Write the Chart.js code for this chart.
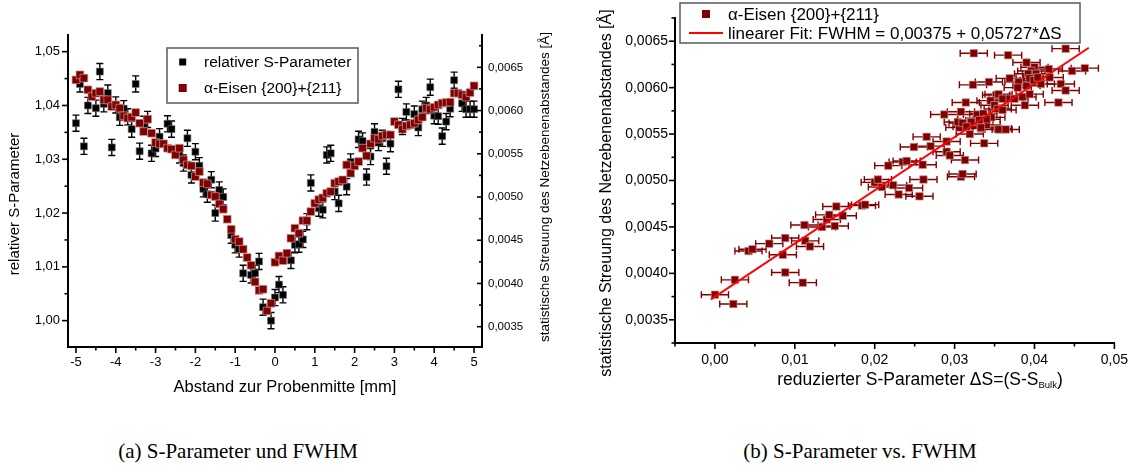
<!DOCTYPE html>
<html>
<head>
<meta charset="utf-8">
<script src="https://cdn.jsdelivr.net/npm/chart.js@4.4.1/dist/chart.umd.min.js"></script>
<style>
  body { margin: 0; background: #fff; }
  #page { position: relative; width: 1137px; height: 473px; overflow: hidden; background: #fff; }
  #chartA { position: absolute; left: 0; top: 0; }
  #chartB { position: absolute; left: 560px; top: 0; }
  .caption { position: absolute; top: 439px; width: 400px; text-align: center;
             font-family: "Liberation Serif", "DejaVu Serif", serif; font-size: 21px; color: #000; }
</style>
</head>
<body>
<div id="page">
  <canvas id="chartA" width="560" height="400"></canvas>
  <canvas id="chartB" width="577" height="400"></canvas>
  <div class="caption" style="left:38px">(a) S-Parameter und FWHM</div>
  <div class="caption" style="left:660px">(b) S-Parameter vs. FWHM</div>
</div>
<script>
// ---- (a) relative S-parameter vs position (black, left axis) ----
const sPos = [-5.0, -4.9, -4.8, -4.7, -4.5, -4.4, -4.3, -4.2, -4.1, -4.0,
              -3.9, -3.8, -3.7, -3.6, -3.5, -3.4, -3.3, -3.2, -3.1, -3.0,
              -2.9, -2.7, -2.6, -2.4, -2.3, -2.2, -2.1, -2.0, -1.9, -1.8,
              -1.7, -1.6, -1.5, -1.4, -1.3, -1.1, -1.0, -0.9, -0.8, -0.6,
              -0.5, -0.4, -0.3, -0.1, 0.0, 0.1, 0.2, 0.4, 0.5, 0.6,
              0.7, 0.8, 0.9, 1.1, 1.2, 1.3, 1.4, 1.5, 1.6, 1.8,
              1.9, 2.1, 2.2, 2.3, 2.4, 2.5, 2.6, 2.7, 2.8, 2.9,
              3.1, 3.2, 3.3, 3.5, 3.6, 3.7, 3.8, 3.9, 4.0, 4.1,
              4.2, 4.3, 4.4, 4.5, 4.7, 4.8, 4.9, 5.0];
const sVal = [1.0367, 1.0440, 1.0324, 1.0400, 1.0395, 1.0463, 1.0403, 1.0423, 1.0322, 1.0401,
              1.0378, 1.0394, 1.0379, 1.0356, 1.0440, 1.0315, 1.0365, 1.0374, 1.0311, 1.0320,
              1.0342, 1.0366, 1.0356, 1.0308, 1.0293, 1.0339, 1.0271, 1.0314, 1.0288, 1.0245,
              1.0235, 1.0262, 1.0200, 1.0243, 1.0230, 1.0159, 1.0141, 1.0133, 1.0088, 1.0085,
              1.0088, 1.0110, 1.0025, 1.0000, 1.0043, 1.0067, 1.0048, 1.0112, 1.0141, 1.0142,
              1.0151, 1.0184, 1.0256, 1.0209, 1.0206, 1.0308, 1.0311, 1.0240, 1.0218, 1.0249,
              1.0295, 1.0337, 1.0334, 1.0267, 1.0305, 1.0351, 1.0331, 1.0339, 1.0287, 1.0329,
              1.0430, 1.0361, 1.0388, 1.0384, 1.0359, 1.0393, 1.0400, 1.0434, 1.0381, 1.0380,
              1.0343, 1.0370, 1.0394, 1.0447, 1.0404, 1.0393, 1.0393, 1.0393];
const sErr = 0.0015;

// ---- (a) FWHM vs position (dark red, right axis) ----
const fPos = [-5.0, -4.9, -4.8, -4.7, -4.6, -4.5, -4.4, -4.3, -4.2, -4.1,
              -4.0, -3.9, -3.8, -3.7, -3.6, -3.5, -3.4, -3.3, -3.2, -3.1,
              -3.0, -2.9, -2.8, -2.7, -2.6, -2.5, -2.4, -2.3, -2.2, -2.1,
              -2.0, -1.9, -1.8, -1.7, -1.6, -1.5, -1.4, -1.3, -1.2, -1.1,
              -1.0, -0.9, -0.8, -0.7, -0.6, -0.5, -0.4, -0.3, -0.2, -0.1,
              0.0, 0.1, 0.2, 0.3, 0.4, 0.5, 0.6, 0.7, 0.8, 0.9,
              1.0, 1.1, 1.2, 1.3, 1.4, 1.5, 1.6, 1.7, 1.8, 1.9,
              2.0, 2.1, 2.2, 2.3, 2.4, 2.5, 2.6, 2.7, 2.8, 2.9,
              3.0, 3.1, 3.2, 3.3, 3.4, 3.5, 3.6, 3.7, 3.8, 3.9,
              4.0, 4.1, 4.2, 4.3, 4.4, 4.5, 4.6, 4.7, 4.8, 4.9, 5.0];
const fVal = [0.006355, 0.006413, 0.006375, 0.006240, 0.006162, 0.006201, 0.006220, 0.006124, 0.006124, 0.006046,
              0.006066, 0.006028, 0.005939, 0.005912, 0.005924, 0.005977, 0.005854, 0.005757, 0.005900, 0.005738,
              0.005630, 0.005615, 0.005615, 0.005565, 0.005553, 0.005487, 0.005565, 0.005429, 0.005371, 0.005360,
              0.005236, 0.005294, 0.005167, 0.005152, 0.005024, 0.005005, 0.004920, 0.004859, 0.004743, 0.004627,
              0.004512, 0.004484, 0.004396, 0.004300, 0.004210, 0.004018, 0.003920, 0.003933, 0.003682, 0.003771,
              0.004245, 0.004318, 0.004264, 0.004350, 0.004523, 0.004639, 0.004581, 0.004727, 0.004727, 0.004831,
              0.004928, 0.004970, 0.004990, 0.005044, 0.005063, 0.005160, 0.005178, 0.005198, 0.005371, 0.005275,
              0.005360, 0.005410, 0.005565, 0.005476, 0.005615, 0.005680, 0.005669, 0.005707, 0.005719, 0.005719,
              0.005873, 0.005835, 0.005785, 0.005823, 0.005835, 0.005854, 0.005893, 0.005924, 0.006028, 0.006016,
              0.006039, 0.006066, 0.006086, 0.006093, 0.006097, 0.006201, 0.006201, 0.006182, 0.006155, 0.006208, 0.006286];

// ---- (b) reduced S-parameter vs FWHM ----
const dS = [0.0000, 0.0023, 0.0025, 0.0042, 0.0047, 0.0068, 0.0085, 0.0088, 0.0088, 0.0110,
            0.0112, 0.0113, 0.0119, 0.0134, 0.0140, 0.0143, 0.0150, 0.0152, 0.0160, 0.0184,
            0.0188, 0.0200, 0.0209, 0.0223, 0.0230, 0.0243, 0.0256, 0.0204, 0.0261, 0.0308,
            0.0310, 0.0217, 0.0235, 0.0240, 0.0260, 0.0313, 0.0290, 0.0294, 0.0249, 0.0270,
            0.0290, 0.0337, 0.0265, 0.0319, 0.0333, 0.0354, 0.0306, 0.0304, 0.0320, 0.0340,
            0.0308, 0.0328, 0.0287, 0.0314, 0.0346, 0.0352, 0.0323, 0.0343, 0.0324, 0.0367,
            0.0439, 0.0390, 0.0400, 0.0396, 0.0418, 0.0447, 0.0463, 0.0369, 0.0380, 0.0390,
            0.0408, 0.0433, 0.0439, 0.0419, 0.0379, 0.0355, 0.0360, 0.0369, 0.0375, 0.0385,
            0.0394, 0.0430, 0.0388, 0.0345, 0.0350, 0.0354, 0.0360, 0.0336, 0.0340, 0.0310,
            0.0321, 0.0331, 0.0315, 0.0333, 0.0355, 0.0364, 0.0392, 0.0402, 0.0394, 0.0399, 0.0404];
const dFw = [0.00377, 0.00367, 0.00393, 0.00424, 0.00426, 0.00432, 0.00420, 0.00438, 0.00401, 0.00390,
             0.00452, 0.00435, 0.00429, 0.00450, 0.00458, 0.00463, 0.00451, 0.00472, 0.00462, 0.00473,
             0.00474, 0.00498, 0.00493, 0.00495, 0.00485, 0.00492, 0.00483, 0.00501, 0.00501, 0.00504,
             0.00507, 0.00516, 0.00520, 0.00521, 0.00517, 0.00522, 0.00531, 0.00527, 0.00536, 0.00537,
             0.00542, 0.00540, 0.00547, 0.00550, 0.00556, 0.00556, 0.00557, 0.00563, 0.00564, 0.00560,
             0.00574, 0.00571, 0.00571, 0.00584, 0.00568, 0.00592, 0.00603, 0.00606, 0.00637, 0.00635,
             0.00642, 0.00627, 0.00622, 0.00618, 0.00620, 0.00618, 0.00621, 0.00610, 0.00606, 0.00602,
             0.00604, 0.00604, 0.00597, 0.00611, 0.00600, 0.00593, 0.00588, 0.00588, 0.00588, 0.00590,
             0.00593, 0.00584, 0.00581, 0.00586, 0.00581, 0.00577, 0.00576, 0.00572, 0.00566, 0.00562,
             0.00563, 0.00565, 0.00558, 0.00557, 0.00555, 0.00555, 0.00615, 0.00615, 0.00610, 0.00608, 0.00611];
const dSErr = 0.0017;
const fitX = [-0.0005, 0.0468];
const fitY = [0.00372, 0.00643];

// tick positions
const posTicks = [-5, -4, -3, -2, -1, 0, 1, 2, 3, 4, 5];
const sTicks = [1.00, 1.01, 1.02, 1.03, 1.04, 1.05];
const fTicks = [0.0035, 0.0040, 0.0045, 0.0050, 0.0055, 0.0060, 0.0065];
const dSTicks = [0.00, 0.01, 0.02, 0.03, 0.04, 0.05];

const SANS = '"Liberation Sans", Arial, sans-serif';
const DARKRED = '#800000';
const deNum = (v, d) => v.toFixed(d).replace('.', ',');
const toXY = (xs, ys) => xs.map((x, i) => ({ x: x, y: ys[i] }));

Chart.defaults.font.family = SANS;
Chart.defaults.color = '#000';

// error bars, drawn under the markers
const errorBars = {
  id: 'errorBars',
  beforeDatasetsDraw(chart) {
    const ctx = chart.ctx;
    chart.data.datasets.forEach((ds, i) => {
      if (ds.errY === undefined && ds.errX === undefined) return;
      const meta = chart.getDatasetMeta(i);
      const xs = chart.scales[meta.xAxisID], ys = chart.scales[meta.yAxisID];
      ctx.save();
      ctx.strokeStyle = ds.errColor;
      ctx.lineWidth = 1.4;
      ds.data.forEach(p => {
        const px = xs.getPixelForValue(p.x), py = ys.getPixelForValue(p.y);
        ctx.beginPath();
        if (ds.errY !== undefined) {
          const t = ys.getPixelForValue(p.y + ds.errY), b = ys.getPixelForValue(p.y - ds.errY);
          ctx.moveTo(px, t); ctx.lineTo(px, b);
          ctx.moveTo(px - 3.5, t); ctx.lineTo(px + 3.5, t);
          ctx.moveTo(px - 3.5, b); ctx.lineTo(px + 3.5, b);
        } else {
          const l = xs.getPixelForValue(p.x - ds.errX), r = xs.getPixelForValue(p.x + ds.errX);
          ctx.moveTo(l, py); ctx.lineTo(r, py);
          ctx.moveTo(l, py - 3.5); ctx.lineTo(l, py + 3.5);
          ctx.moveTo(r, py - 3.5); ctx.lineTo(r, py + 3.5);
        }
        ctx.stroke();
      });
      ctx.restore();
    });
  }
};

// tick marks (major + minor), axis titles and the boxed legend
function makeDecor(spec) {
  return {
    id: 'decor',
    afterDraw(chart) {
      const ctx = chart.ctx, a = chart.chartArea;
      ctx.save();
      ctx.strokeStyle = '#000';
      ctx.lineWidth = 1.6;
      spec.ticks.forEach(t => {
        const s = chart.scales[t.id];
        const k0 = Math.ceil(s.min / t.minor - 1e-6), k1 = Math.floor(s.max / t.minor + 1e-6);
        for (let k = k0; k <= k1; k++) {
          const v = k * t.minor, r = v / t.major;
          const len = Math.abs(r - Math.round(r)) < 1e-6 ? t.len : t.mlen;
          const p = s.getPixelForValue(v);
          ctx.beginPath();
          if (t.side === 'bottom') { ctx.moveTo(p, a.bottom); ctx.lineTo(p, a.bottom + len); }
          else if (t.side === 'left') { ctx.moveTo(a.left, p); ctx.lineTo(a.left - len, p); }
          else { ctx.moveTo(a.right, p); ctx.lineTo(a.right - len, p); }
          ctx.stroke();
        }
      });

      ctx.fillStyle = '#000';
      ctx.textBaseline = 'middle';
      spec.titles.forEach(t => {
        ctx.save();
        ctx.translate(t.x, t.y);
        ctx.rotate(t.rot * Math.PI / 180);
        ctx.font = t.size + 'px ' + SANS;
        const w = ctx.measureText(t.text).width;
        let sw = 0;
        if (t.sub) {
          ctx.font = t.subSize + 'px ' + SANS;
          sw = ctx.measureText(t.sub).width;
          ctx.font = t.size + 'px ' + SANS;
          sw += ctx.measureText(t.tail).width;
        }
        let x0 = -(w + sw) / 2;
        ctx.textAlign = 'left';
        ctx.fillText(t.text, x0, 0);
        if (t.sub) {
          x0 += w;
          ctx.font = t.subSize + 'px ' + SANS;
          ctx.fillText(t.sub, x0, t.subDy);
          x0 += ctx.measureText(t.sub).width;
          ctx.font = t.size + 'px ' + SANS;
          ctx.fillText(t.tail, x0, 0);
        }
        ctx.restore();
      });

      const lg = spec.legend;
      ctx.fillStyle = '#fff';
      ctx.fillRect(lg.x, lg.y, lg.w, lg.h);
      ctx.strokeStyle = '#5a5a5a';
      ctx.lineWidth = 1.5;
      ctx.strokeRect(lg.x, lg.y, lg.w, lg.h);
      ctx.font = lg.size + 'px ' + SANS;
      ctx.textAlign = 'left';
      lg.items.forEach(it => {
        const ds = chart.data.datasets[it.ds];
        if (it.kind === 'line') {
          ctx.strokeStyle = ds.borderColor;
          ctx.lineWidth = 2;
          ctx.beginPath(); ctx.moveTo(it.x0, it.y); ctx.lineTo(it.x1, it.y); ctx.stroke();
        } else {
          ctx.fillStyle = ds.backgroundColor;
          ctx.fillRect(it.mx - it.ms / 2, it.y - it.ms / 2, it.ms, it.ms);
        }
        ctx.fillStyle = '#000';
        ctx.fillText(ds.label, it.tx, it.y + 1);
      });
      ctx.restore();
    }
  };
}

function axis(opts) {
  return Object.assign({
    type: 'linear',
    grid: { display: false, drawTicks: false },
    border: { display: true, color: '#000', width: 2 }
  }, opts);
}

// ---------------- chart (a) ----------------
new Chart(document.getElementById('chartA'), {
  type: 'scatter',
  data: {
    datasets: [
      {
        label: 'relativer S-Parameter',
        data: toXY(sPos, sVal),
        yAxisID: 'y',
        pointStyle: 'rect', pointRadius: 4.9,
        backgroundColor: '#000', borderColor: '#6a6a6a', borderWidth: 0.6,
        errY: sErr, errColor: '#000',
        order: 1
      },
      {
        label: 'α-Eisen {200}+{211}',
        data: toXY(fPos, fVal),
        yAxisID: 'y2',
        pointStyle: 'rect', pointRadius: 5.5,
        backgroundColor: DARKRED, borderColor: '#c99a9a', borderWidth: 0.7,
        order: 0
      }
    ]
  },
  options: {
    responsive: false,
    animation: false,
    events: [],
    layout: { padding: { top: 35, left: 0, right: 0, bottom: 0 } },
    plugins: { legend: { display: false }, tooltip: { enabled: false } },
    scales: {
      x: axis({
        min: -5.2, max: 5.2,
        afterBuildTicks: s => { s.ticks = posTicks.map(v => ({ value: v })); },
        afterFit: s => { s.height = 53; },
        ticks: { font: { size: 13 }, color: '#000', padding: 8, maxRotation: 0, autoSkip: false,
                 callback: v => String(v) }
      }),
      y: axis({
        position: 'left',
        min: 0.9951, max: 1.0531,
        afterBuildTicks: s => { s.ticks = sTicks.map(v => ({ value: v })); },
        afterFit: s => { s.width = 68; },
        ticks: { font: { size: 13 }, color: '#000', padding: 8, autoSkip: false, callback: v => deNum(v, 2) }
      }),
      y2: axis({
        position: 'right',
        min: 0.003265, max: 0.006874,
        afterBuildTicks: s => { s.ticks = fTicks.map(v => ({ value: v })); },
        afterFit: s => { s.width = 78; },
        ticks: { font: { size: 11.5 }, color: '#000', padding: 6, autoSkip: false, callback: v => deNum(v, 4) }
      })
    }
  },
  plugins: [errorBars, makeDecor({
    ticks: [
      { id: 'x', side: 'bottom', major: 1, minor: 0.5, len: 6, mlen: 3.5 },
      { id: 'y', side: 'left', major: 0.01, minor: 0.005, len: 6, mlen: 3.5 },
      { id: 'y2', side: 'right', major: 0.0005, minor: 0.00025, len: 5, mlen: 3 }
    ],
    titles: [
      { text: 'relativer S-Parameter', x: 15, y: 204, rot: -90, size: 15 },
      { text: 'Abstand zur Probenmitte [mm]', x: 285, y: 387, rot: 0, size: 16.5 },
      { text: 'statistische Streuung des Netzebenenabstandes [Å]', x: 545, y: 187, rot: -90, size: 13.5 }
    ],
    legend: {
      x: 167, y: 48, w: 191, h: 55, size: 15.5,
      items: [
        { ds: 0, mx: 182.7, ms: 7, y: 62, tx: 204 },
        { ds: 1, mx: 182.7, ms: 8, y: 88, tx: 204 }
      ]
    }
  })]
});

// ---------------- chart (b) ----------------
new Chart(document.getElementById('chartB'), {
  type: 'scatter',
  data: {
    datasets: [
      {
        label: 'α-Eisen {200}+{211}',
        data: toXY(dS, dFw),
        pointStyle: 'rect', pointRadius: 5.3,
        backgroundColor: DARKRED, borderColor: '#c99a9a', borderWidth: 0.7,
        errX: dSErr, errColor: DARKRED,
        order: 1
      },
      {
        type: 'line',
        label: 'linearer Fit: FWHM = 0,00375 + 0,05727*ΔS',
        data: toXY(fitX, fitY),
        borderColor: '#ff0000', borderWidth: 2,
        pointRadius: 0, showLine: true, fill: false,
        order: 0
      }
    ]
  },
  options: {
    responsive: false,
    animation: false,
    events: [],
    layout: { padding: { top: 18, left: 0, right: 22, bottom: 0 } },
    plugins: { legend: { display: false }, tooltip: { enabled: false } },
    scales: {
      x: axis({
        min: -0.005, max: 0.05,
        afterBuildTicks: s => { s.ticks = dSTicks.map(v => ({ value: v })); },
        afterFit: s => { s.height = 57; },
        ticks: { font: { size: 14 }, color: '#000', padding: 9, maxRotation: 0, autoSkip: false,
                 callback: v => deNum(v, 2) }
      }),
      y: axis({
        position: 'left',
        min: 0.00325, max: 0.00675,
        afterBuildTicks: s => { s.ticks = fTicks.map(v => ({ value: v })); },
        afterFit: s => { s.width = 115; },
        ticks: { font: { size: 14 }, color: '#000', padding: 7, autoSkip: false, callback: v => deNum(v, 4) }
      })
    }
  },
  plugins: [errorBars, makeDecor({
    ticks: [
      { id: 'x', side: 'bottom', major: 0.01, minor: 0.005, len: 6, mlen: 3.5 },
      { id: 'y', side: 'left', major: 0.0005, minor: 0.00025, len: 6, mlen: 3.5 }
    ],
    titles: [
      { text: 'statistische Streuung des Netzebenenabstandes [Å]', x: 47, y: 193, rot: -90, size: 16 },
      { text: 'reduzierter S-Parameter ΔS=(S-S', sub: 'Bulk', tail: ')', subSize: 9.5, subDy: 5,
        x: 360, y: 380, rot: 0, size: 17.5 }
    ],
    legend: {
      x: 120, y: 3, w: 400, h: 40, size: 17,
      items: [
        { ds: 0, mx: 146, ms: 8, y: 14, tx: 168 },
        { ds: 1, kind: 'line', x0: 129, x1: 163, y: 33, tx: 168 }
      ]
    }
  })]
});
</script>
</body>
</html>
